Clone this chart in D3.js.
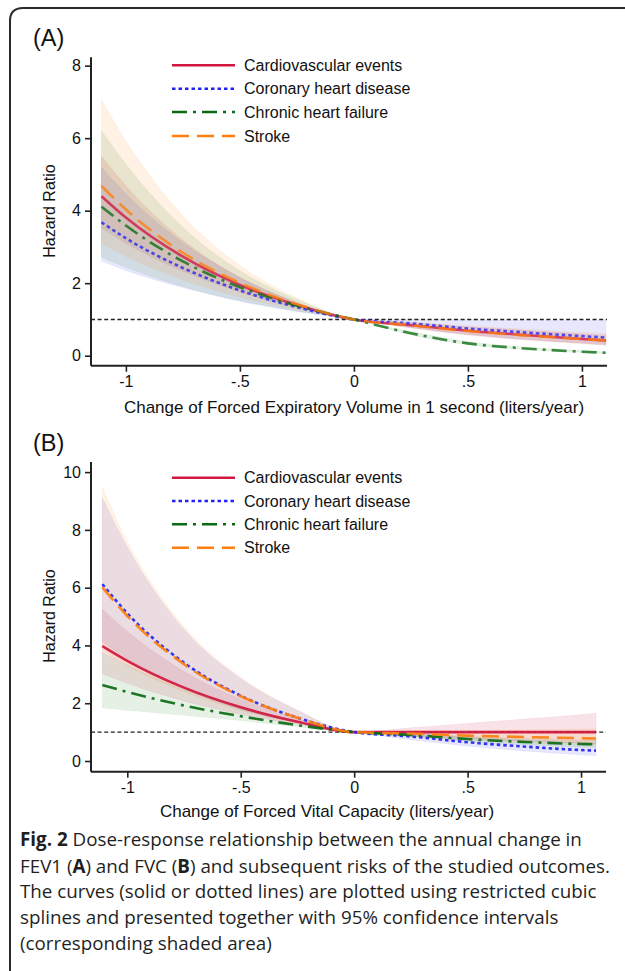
<!DOCTYPE html>
<html>
<head>
<meta charset="utf-8">
<script src="https://cdnjs.cloudflare.com/ajax/libs/d3/7.8.5/d3.min.js"></script>
<style>
  html, body { margin: 0; padding: 0; background: #fff; }
  svg { display: block; }
</style>
</head>
<body>
<svg id="chart" width="625" height="971"></svg>
<script>
// ---------------- DATA ----------------
const seriesNames = ["Cardiovascular events", "Coronary heart disease", "Chronic heart failure", "Stroke"];
const xTickValues = [-1, -0.5, 0, 0.5, 1];
const xTickLabels = ["-1", "-.5", "0", ".5", "1"];
const yTicksA = [0, 2, 4, 6, 8];
const yTicksB = [0, 2, 4, 6, 8, 10];

// Panel A: FEV1
const xA = [-1.107, -1, -0.75, -0.5, -0.25, 0, 0.25, 0.5, 0.75, 1, 1.105];
const cvdA    = [4.40, 3.81, 2.73, 1.95, 1.40, 1.00, 0.84, 0.69, 0.57, 0.46, 0.42];
const cvdA_lo = [3.52, 3.10, 2.33, 1.76, 1.33, 1.00, 0.78, 0.59, 0.46, 0.35, 0.32];
const cvdA_hi = [5.50, 4.69, 3.19, 2.16, 1.47, 1.00, 0.91, 0.80, 0.70, 0.60, 0.56];
const chdA    = [3.68, 3.24, 2.42, 1.80, 1.34, 1.00, 0.89, 0.75, 0.64, 0.54, 0.50];
const chdA_lo = [2.61, 2.35, 1.88, 1.50, 1.22, 1.00, 0.77, 0.58, 0.44, 0.34, 0.29];
const chdA_hi = [5.19, 4.47, 3.12, 2.16, 1.47, 1.00, 1.00, 0.99, 0.98, 0.97, 0.97];
const chfA    = [4.11, 3.59, 2.60, 1.89, 1.38, 1.00, 0.62, 0.34, 0.20, 0.11, 0.08];
const chfA_lo = [2.72, 2.44, 1.91, 1.52, 1.23, 1.00, 0.57, 0.30, 0.17, 0.09, 0.06];
const chfA_hi = [6.20, 5.28, 3.54, 2.34, 1.55, 1.00, 0.67, 0.39, 0.24, 0.14, 0.10];
const strA    = [4.68, 4.03, 2.84, 2.01, 1.42, 1.00, 0.84, 0.68, 0.56, 0.46, 0.42];
const strA_lo = [3.10, 2.74, 2.09, 1.62, 1.27, 1.00, 0.76, 0.57, 0.43, 0.33, 0.29];
const strA_hi = [7.05, 5.92, 3.86, 2.49, 1.59, 1.00, 0.92, 0.82, 0.73, 0.64, 0.61];

// Panel B: FVC
const xB = [-1.11, -1, -0.75, -0.5, -0.25, 0, 0.25, 0.5, 0.75, 1, 1.066];
const cvdB    = [3.98, 3.47, 2.54, 1.86, 1.36, 1.00, 1.00, 1.00, 1.00, 1.00, 1.00];
const cvdB_lo = [3.02, 2.69, 2.08, 1.62, 1.27, 1.00, 0.87, 0.77, 0.69, 0.63, 0.61];
const cvdB_hi = [5.25, 4.48, 3.10, 2.14, 1.46, 1.00, 1.15, 1.30, 1.45, 1.60, 1.65];
const chdB    = [6.12, 5.11, 3.40, 2.26, 1.50, 1.00, 0.85, 0.65, 0.50, 0.38, 0.36];
const chdB_lo = [4.12, 3.55, 2.50, 1.78, 1.33, 1.00, 0.74, 0.52, 0.35, 0.22, 0.19];
const chdB_hi = [9.10, 7.40, 4.55, 2.85, 1.75, 1.00, 0.97, 0.82, 0.72, 0.64, 0.62];
const chfB    = [2.63, 2.39, 1.92, 1.55, 1.24, 1.00, 0.90, 0.76, 0.66, 0.59, 0.58];
const chfB_lo = [1.84, 1.76, 1.58, 1.40, 1.18, 1.00, 0.85, 0.68, 0.56, 0.48, 0.46];
const chfB_hi = [3.76, 3.32, 2.48, 1.84, 1.35, 1.00, 0.95, 0.85, 0.78, 0.73, 0.73];
const strB    = [6.01, 5.02, 3.35, 2.24, 1.50, 1.00, 0.95, 0.88, 0.83, 0.79, 0.78];
const strB_lo = [3.83, 3.30, 2.40, 1.76, 1.30, 1.00, 0.86, 0.73, 0.64, 0.56, 0.55];
const strB_hi = [9.45, 7.60, 4.65, 2.90, 1.77, 1.00, 1.05, 1.06, 1.08, 1.11, 1.12];

const captionLines = [
  [["Fig. 2", true], [" Dose-response relationship between the annual change in", false]],
  [["FEV1 (", false], ["A", true], [") and FVC (", false], ["B", true], [") and subsequent risks of the studied outcomes.", false]],
  [["The curves (solid or dotted lines) are plotted using restricted cubic", false]],
  [["splines and presented together with 95% confidence intervals", false]],
  [["(corresponding shaded area)", false]]
];

// ---------------- STYLE ----------------
const styles = [
  { color: "#d1173f", dash: null },
  { color: "#2323f5", dash: "3.5,3" },
  { color: "#0b6b12", dash: "15,6,3,6" },
  { color: "#ff7f0e", dash: "17,8" }
];
const bandColors = ["#d1173f", "#3a3af0", "#2e8f2e", "#ff8a1a"];
const FONT = "'Liberation Sans', Arial, Helvetica, sans-serif";

const svg = d3.select("#chart");

// border
svg.append("path")
  .attr("d", "M10,985 L10,21 Q10,8 23,8 L640,8")
  .attr("fill", "none").attr("stroke", "#2b2b2b").attr("stroke-width", 2);

function drawPanel(cfg) {
  const g = svg.append("g");
  const x = d3.scaleLinear().domain(cfg.xDomain).range([cfg.left, cfg.right]);
  const y = d3.scaleLinear().domain(cfg.yDomain).range([cfg.bottom, cfg.top]);

  const data = cfg.series.map(s => cfg.xs.map((xv, i) => ({ x: xv, y: s.v[i], lo: s.lo[i], hi: s.hi[i] })));

  const area = d3.area().x(d => x(d.x)).y0(d => y(d.lo)).y1(d => y(d.hi)).curve(d3.curveMonotoneX);
  const line = d3.line().x(d => x(d.x)).y(d => y(d.y)).curve(d3.curveMonotoneX);

  // bands
  data.forEach((d, i) => {
    g.append("path").attr("d", area(d))
      .attr("fill", bandColors[i]).attr("fill-opacity", 0.12)
      .attr("stroke", bandColors[i]).attr("stroke-opacity", 0.08).attr("stroke-width", 0.8);
  });

  // reference line at HR = 1
  g.append("line")
    .attr("x1", cfg.left).attr("x2", cfg.right)
    .attr("y1", y(1)).attr("y2", y(1))
    .attr("stroke", "#222").attr("stroke-width", 1.4).attr("stroke-dasharray", "4,2.6");

  // lines
  data.forEach((d, i) => {
    g.append("path").attr("d", line(d))
      .attr("fill", "none").attr("stroke", styles[i].color)
      .attr("stroke-width", 2.6).attr("stroke-opacity", cfg.lineOpacity)
      .attr("stroke-dasharray", styles[i].dash);
  });

  // axes
  const xAxis = d3.axisBottom(x).tickValues(xTickValues)
    .tickFormat((d, i) => xTickLabels[i]).tickSize(6).tickSizeOuter(0).tickPadding(4);
  const yAxis = d3.axisLeft(y).tickValues(cfg.yTicks)
    .tickFormat(d => String(d)).tickSize(6).tickSizeOuter(0).tickPadding(4);

  const gx = g.append("g").attr("transform", `translate(0,${cfg.bottom})`).call(xAxis);
  const gy = g.append("g").attr("transform", `translate(${cfg.left},0)`).call(yAxis);
  [gx, gy].forEach(ax => {
    ax.select(".domain").attr("stroke", "#222").attr("stroke-width", 2);
    ax.selectAll(".tick line").attr("stroke", "#222").attr("stroke-width", 1.6);
    ax.selectAll(".tick text").attr("fill", "#111").style("font-family", FONT).style("font-size", "16px");
  });
  gx.select(".domain").attr("d", `M${cfg.left},0H${cfg.right}`);
  gy.select(".domain").attr("d", `M0,${cfg.bottom}V${cfg.top}`);

  // panel label
  g.append("text").attr("x", 33).attr("y", cfg.labelY)
    .style("font-family", FONT).style("font-size", "23.5px").attr("fill", "#111")
    .text(cfg.label);

  // y title
  g.append("text")
    .attr("transform", `translate(55,${cfg.yTitleY}) rotate(-90)`)
    .attr("text-anchor", "middle")
    .style("font-family", FONT).style("font-size", "16px").attr("fill", "#111")
    .text("Hazard Ratio");

  // x title
  g.append("text").attr("x", cfg.xTitleX).attr("y", cfg.xTitleY)
    .attr("text-anchor", "middle")
    .style("font-family", FONT).style("font-size", "17px").attr("fill", "#111")
    .text(cfg.xTitle);

  // legend
  seriesNames.forEach((name, i) => {
    const ly = cfg.legendY[i];
    g.append("line").attr("x1", 172).attr("x2", 235).attr("y1", ly).attr("y2", ly)
      .attr("stroke", styles[i].color).attr("stroke-width", 2.6)
      .attr("stroke-dasharray", styles[i].dash);
    g.append("text").attr("x", 244).attr("y", ly).attr("dy", "0.36em")
      .style("font-family", FONT).style("font-size", "16px").attr("fill", "#111")
      .text(name);
  });
}

drawPanel({
  label: "(A)", labelY: 46,
  xs: xA,
  series: [
    { v: cvdA, lo: cvdA_lo, hi: cvdA_hi },
    { v: chdA, lo: chdA_lo, hi: chdA_hi },
    { v: chfA, lo: chfA_lo, hi: chfA_hi },
    { v: strA, lo: strA_lo, hi: strA_hi }
  ],
  xDomain: [-1.153, 1.11], yDomain: [-0.276, 8.23],
  left: 91, right: 607, top: 57.3, bottom: 365.7,
  yTicks: yTicksA, yTitleY: 211,
  xTitle: "Change of Forced Expiratory Volume in 1 second (liters/year)",
  xTitleX: 354, xTitleY: 413,
  legendY: [65.3, 88.7, 112, 136],
  lineOpacity: 0.78
});

drawPanel({
  label: "(B)", labelY: 451,
  xs: xB,
  series: [
    { v: cvdB, lo: cvdB_lo, hi: cvdB_hi },
    { v: chdB, lo: chdB_lo, hi: chdB_hi },
    { v: chfB, lo: chfB_lo, hi: chfB_hi },
    { v: strB, lo: strB_lo, hi: strB_hi }
  ],
  xDomain: [-1.16, 1.11], yDomain: [-0.37, 10.35],
  left: 91, right: 606, top: 462, bottom: 771.7,
  yTicks: yTicksB, yTitleY: 616,
  xTitle: "Change of Forced Vital Capacity (liters/year)",
  xTitleX: 327, xTitleY: 817,
  legendY: [477.7, 501, 524.3, 547.7],
  lineOpacity: 0.92
});

// caption
const capY = [846, 872.5, 898.3, 923.8, 950];
captionLines.forEach((parts, i) => {
  const t = svg.append("text").attr("x", 20).attr("y", capY[i])
    .style("font-family", "'Open Sans', 'Noto Sans', sans-serif")
    .style("font-size", "18.8px").attr("fill", "#1f1f1f");
  parts.forEach(p => {
    t.append("tspan").text(p[0]).style("font-weight", p[1] ? "700" : "400");
  });
});
</script>
</body>
</html>
